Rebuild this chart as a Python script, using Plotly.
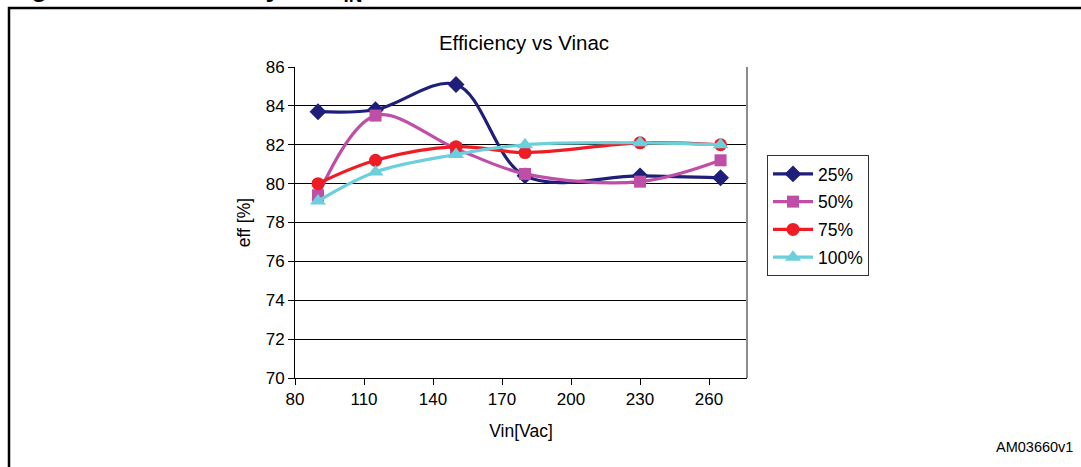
import plotly.graph_objects as go

vin = [90, 115, 150, 180, 230, 265]
eff_25 = [83.7, 83.8, 85.1, 80.4, 80.4, 80.3]
eff_50 = [79.4, 83.5, 81.8, 80.5, 80.1, 81.2]
eff_75 = [80.0, 81.2, 81.9, 81.6, 82.1, 82.0]
eff_100 = [79.1, 80.6, 81.5, 82.0, 82.1, 82.0]

series = [
    ("25%", eff_25, "#1f1f7a", "diamond", 13),
    ("50%", eff_50, "#bf4fa6", "square", 12),
    ("75%", eff_75, "#ee1c24", "circle", 13),
    ("100%", eff_100, "#6bcfdc", "triangle-up", 14),
]

x_ticks = [80, 110, 140, 170, 200, 230, 260]
y_ticks = [70, 72, 74, 76, 78, 80, 82, 84, 86]

FONT = "Liberation Sans, Arial, sans-serif"

fig = go.Figure()
for i, (name, vals, color, sym, size) in enumerate(series):
    fig.add_trace(go.Scatter(
        x=vin, y=vals, name=name, mode="lines+markers",
        line=dict(color=color, width=3.2, shape="spline", smoothing=1),
        marker=dict(color=color, symbol=sym, size=size),
        legendgroup=str(i),
    ))

L, R, T, B = 295, 1081 - 747, 67, 467 - 378
W, H = 1081 - L - R, 467 - T - B

def px(xp):
    return (xp - L) / W

def py(yp):
    return 1 - (yp - T) / H

fig.update_layout(
    width=1081, height=467,
    margin=dict(l=L, r=R, t=T, b=B),
    paper_bgcolor="white", plot_bgcolor="white",
    font=dict(family=FONT, size=17, color="black"),
    title=dict(text="Efficiency vs Vinac", x=px(524), xref="paper", xanchor="center",
               y=1 - 43 / 467, yref="container", yanchor="middle",
               font=dict(size=20.5, family=FONT, color="black")),
    showlegend=True,
    legend=dict(x=px(767), y=py(155), xanchor="left", yanchor="top",
                bordercolor="#333333", borderwidth=1, bgcolor="white",
                font=dict(size=17.5, family=FONT, color="black"),
                tracegroupgap=2, itemwidth=40),
)

fig.update_xaxes(
    range=[80, 276.5], tickvals=x_ticks, ticktext=[str(v) for v in x_ticks],
    showgrid=False, zeroline=False, showline=True, linecolor="black", linewidth=1,
    ticks="outside", ticklen=6, tickcolor="black",
    title=dict(text="Vin[Vac]", standoff=16, font=dict(size=17.5)),
    tickfont=dict(size=17),
)
fig.update_yaxes(
    range=[70, 86], tickvals=y_ticks, ticktext=[str(v) for v in y_ticks],
    showgrid=True, gridcolor="black", gridwidth=1, zeroline=False,
    showline=True, linecolor="black", linewidth=1,
    ticks="outside", ticklen=6, tickcolor="black",
    title=dict(text="eff [%]", standoff=10, font=dict(size=17.5)),
    tickfont=dict(size=17),
)

# right plot border (gray)
fig.add_shape(type="line", xref="paper", yref="paper", x0=1, x1=1, y0=0, y1=1,
              line=dict(color="#8c8c8c", width=2))
# outer figure frame
fig.add_shape(type="rect", xref="paper", yref="paper",
              x0=px(9), x1=px(1200), y0=py(8), y1=py(600),
              line=dict(color="black", width=2.5), fillcolor="rgba(0,0,0,0)", layer="below")

# clipped heading at top (partly cut off as in the reference)
fig.add_annotation(text="<b>Figure 5.</b>", xref="paper", yref="paper",
                   x=px(6), y=py(3.5), xanchor="left", yanchor="bottom", borderpad=0,
                   showarrow=False, font=dict(size=27, family=FONT, color="black"))
fig.add_annotation(text="<b>Efficiency vs V<sub>IN</sub></b>", xref="paper", yref="paper",
                   x=px(152), y=py(6.5), xanchor="left", yanchor="bottom", borderpad=0,
                   showarrow=False, font=dict(size=27, family=FONT, color="black"))

fig.add_annotation(text="AM03660v1", xref="paper", yref="paper",
                   x=px(1075), y=py(447), xanchor="right", yanchor="middle",
                   showarrow=False, font=dict(size=14.5, family=FONT, color="black"))

fig.write_html("out.html")
